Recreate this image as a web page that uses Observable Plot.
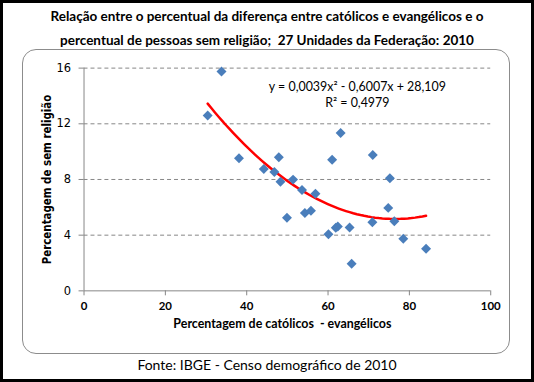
<!DOCTYPE html>
<html><head><meta charset="utf-8">
<script src="https://cdn.jsdelivr.net/npm/d3@7"></script>
<script src="https://cdn.jsdelivr.net/npm/@observablehq/plot@0.6"></script>
<style>
body{margin:0;background:#fff;}
#page{position:relative;width:534px;height:382px;box-sizing:border-box;border:3px solid #000;background:#fff;overflow:hidden;}
.t{position:absolute;left:-3px;width:534px;text-align:center;font-family:Lato,"Liberation Sans",sans-serif;color:#000;white-space:pre;}
.title{font-weight:bold;font-size:13.5px;}
#frame{position:absolute;left:19px;top:46px;width:486px;height:303px;border:1px solid #8c8c8c;border-radius:14px;}
#chart{position:absolute;left:-3px;top:-3px;}
</style></head>
<body>
<div id="page">
  <div id="frame"></div>
  <div class="t title" id="t1" style="top:5px"></div>
  <div class="t title" id="t2" style="top:29px"></div>
  <div id="chart"></div>
  <div class="t" id="src" style="top:353px;font-size:14px"></div>
</div>
<script>
// Data: one point per Unidade da Federação (27)
const catMinusEvang = [33.8, 30.4, 38.1, 44.2, 47.9, 46.8, 48.3, 51.4, 53.6, 56.9, 61.0, 63.1, 71.0, 75.2,
                       49.9, 54.3, 55.8, 60.1, 61.9, 62.4, 65.3, 65.8, 70.9, 74.8, 76.3, 78.5, 84.1];
const semReligiao  = [15.76, 12.6, 9.52, 8.76, 9.59, 8.54, 7.83, 7.99, 7.25, 6.97, 9.41, 11.34, 9.76, 8.09,
                       5.25, 5.59, 5.76, 4.07, 4.53, 4.62, 4.55, 1.95, 4.93, 5.96, 5.0, 3.74, 3.03];
const xTicks = [0, 20, 40, 60, 80, 100];
const yTicks = [0, 4, 8, 12, 16];
const titleLines = ["Relação entre o percentual da diferença entre católicos e evangélicos e o",
                    "percentual de pessoas sem religião;  27 Unidades da Federação: 2010"];
const equationLines = ["y = 0,0039x² - 0,6007x + 28,109", "R² = 0,4979"];
const xLabel = "Percentagem de católicos  - evangélicos";
const yLabel = "Percentagem de sem religião";
const source = "Fonte: IBGE - Censo demográfico de 2010";

document.getElementById("t1").textContent = titleLines[0];
document.getElementById("t2").textContent = titleLines[1];
document.getElementById("src").textContent = source;

const points = catMinusEvang.map((x, i) => ({x, y: semReligiao[i]}));

// Quadratic least-squares trendline fitted to the points (as the spreadsheet does)
function quadFit(xs, ys) {
  const S = k => d3.sum(xs, x => x ** k);
  const T = k => d3.sum(xs, (x, i) => x ** k * ys[i]);
  const A = [[S(0), S(1), S(2), T(0)], [S(1), S(2), S(3), T(1)], [S(2), S(3), S(4), T(2)]];
  for (let c = 0; c < 3; c++) {
    for (let r = c + 1; r < 3; r++) {
      const f = A[r][c] / A[c][c];
      for (let k = c; k < 4; k++) A[r][k] -= f * A[c][k];
    }
  }
  const b = [0, 0, 0];
  for (let r = 2; r >= 0; r--) {
    let s = A[r][3];
    for (let k = r + 1; k < 3; k++) s -= A[r][k] * b[k];
    b[r] = s / A[r][r];
  }
  return b;
}
const coef = quadFit(catMinusEvang, semReligiao);
const [xa, xb] = d3.extent(catMinusEvang);
const trend = d3.range(61).map(i => {
  const x = xa + (xb - xa) * i / 60;
  return {x, y: coef[0] + coef[1] * x + coef[2] * x * x};
});

const axisGray = "#868686";
const chart = Plot.plot({
  width: 534, height: 382,
  marginLeft: 84, marginRight: 41, marginTop: 68, marginBottom: 90,
  x: {domain: [0, 100]},
  y: {domain: [0, 16]},
  style: {background: "transparent", fontFamily: "Lato, 'Liberation Sans', sans-serif", color: "#000"},
  marks: [
    Plot.ruleY(yTicks.filter(d => d > 0), {stroke: axisGray, strokeDasharray: "4,3", strokeWidth: 1}),
    Plot.axisX({ticks: xTicks, tickSize: 5, tickPadding: 6, stroke: axisGray, fill: "#000",
                fontSize: 11.5, fontWeight: "bold", label: null}),
    Plot.axisY({ticks: yTicks, tickSize: 5, tickPadding: 8, stroke: axisGray, fill: "#000",
                fontSize: 11.5, fontFamily: "'DejaVu Sans', sans-serif", label: null}),
    Plot.ruleX([0], {stroke: axisGray}),
    Plot.ruleY([0], {stroke: axisGray}),
    Plot.line(trend, {x: "x", y: "y", stroke: "#ff0000", strokeWidth: 2.5}),
    Plot.dot(points, {x: "x", y: "y", symbol: "square", r: 4, rotate: 45, fill: "#4a7ebb"}),
    Plot.text([equationLines[0]], {x: () => 67.2, y: () => 14.66, text: d => d, fontSize: 12.5, fill: "#000"}),
    Plot.text([equationLines[1]], {x: () => 67.2, y: () => 13.5, text: d => d, fontSize: 12.5, fill: "#000"}),
    Plot.text([xLabel], {frameAnchor: "bottom", dx: -5, dy: 37, text: d => d, fontSize: 12.5, fontWeight: "bold", fill: "#000"}),
    Plot.text([yLabel], {frameAnchor: "left", textAnchor: "middle", dx: -37, rotate: -90, text: d => d, fontSize: 11.5,
                         fontWeight: "bold", fontFamily: "'DejaVu Sans Condensed', 'DejaVu Sans', sans-serif", fill: "#000"})
  ]
});
document.getElementById("chart").appendChild(chart);
</script>
</body></html>
